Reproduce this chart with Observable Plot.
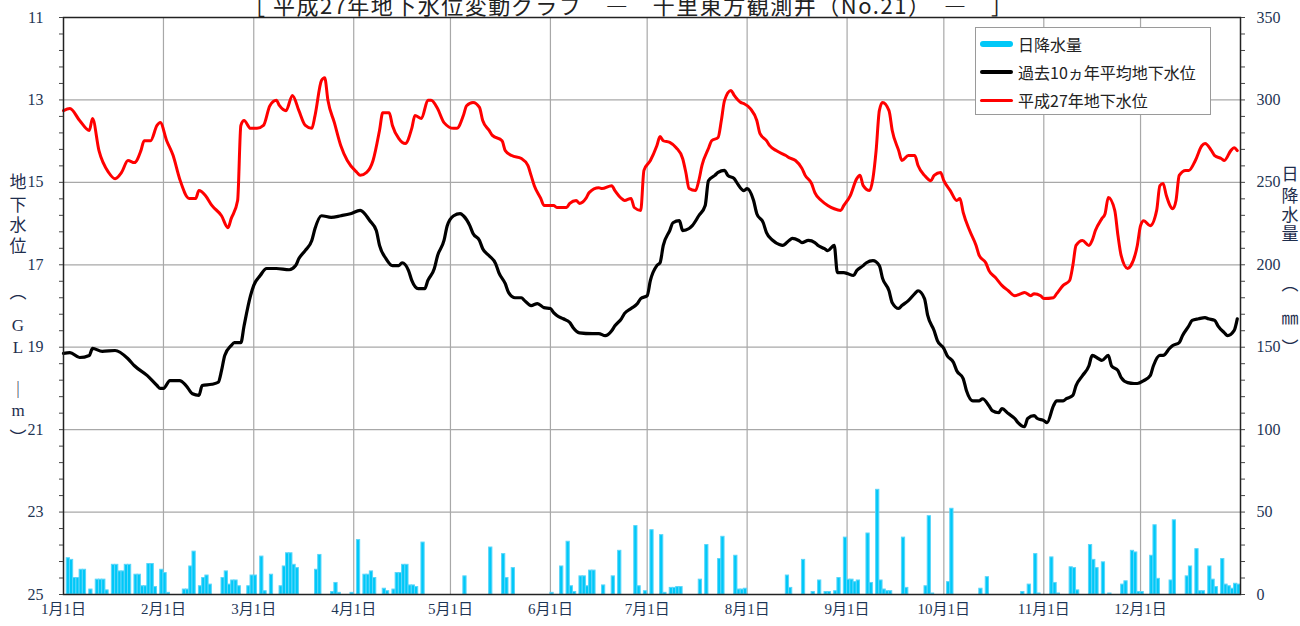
<!DOCTYPE html>
<html><head><meta charset="utf-8">
<script src="https://cdn.jsdelivr.net/npm/d3@7"></script>
<script src="https://cdn.jsdelivr.net/npm/@observablehq/plot@0.6"></script>
<style>
html,body{margin:0;padding:0;background:#fff;overflow:hidden;}
#wrap{position:relative;width:1300px;height:626px;}
#title{position:absolute;top:-12px;left:243px;font-size:22px;font-family:'Noto Sans CJK JP',sans-serif;letter-spacing:1.5px;color:#222;white-space:nowrap;}
.vlab{position:absolute;font-size:17px;font-family:'Liberation Serif','Noto Sans CJK JP',serif;color:#1e2d4d;transform:translate(-50%,-50%);line-height:1;}
#legend{position:absolute;left:975px;top:27px;width:236px;height:88px;border:1px solid #9a9a9a;background:#fff;box-sizing:border-box;}
.lrow{position:absolute;left:4px;height:20px;display:flex;align-items:center;font-size:16px;font-family:'Noto Sans CJK JP',sans-serif;color:#222;white-space:nowrap;}
.sw{width:33px;margin-right:5px;border-radius:3px;}
</style></head>
<body><div id="wrap"><div id="chart"></div>
<div id="title"></div>
<div id="legend"></div>
</div>
<script>
// ---- data (day index: 0 = 1 Jan 2015) ----
const titleText = "［ 平成27年地下水位変動グラフ　―　千里東方観測井（No.21）　―　］";
const monthLabels = ["1月1日","2月1日","3月1日","4月1日","5月1日","6月1日","7月1日","8月1日","9月1日","10月1日","11月1日","12月1日"];
const leftTicks = [11,13,15,17,19,21,23,25];
const rightTicksMm = [0,50,100,150,200,250,300,350];
const seriesNames = ["日降水量","過去10ヵ年平均地下水位","平成27年地下水位"];

const rainDay = [1,2,3,4,5,6,8,10,11,12,13,15,16,17,18,19,20,22,23,24,25,26,27,28,30,31,32,37,38,39,40,42,43,44,45,49,50,51,52,53,54,57,58,59,61,62,64,67,68,69,70,71,72,78,79,83,84,85,89,91,93,94,95,96,99,100,102,103,104,105,106,107,108,109,111,124,132,136,137,139,151,154,156,157,158,160,161,162,163,164,167,170,172,177,178,180,182,185,186,188,189,190,191,197,199,203,204,208,209,210,211,224,225,229,232,234,236,237,239,240,242,243,244,245,246,249,250,252,253,254,255,256,260,261,267,268,269,274,275,284,286,297,299,301,302,306,307,308,312,313,314,318,319,320,322,324,328,329,331,332,333,334,337,338,339,343,344,348,349,351,352,353,355,356,357,359,360,361,362,363,364];
const rainMm = [22,21,10,10,15,15,3,9,9,9,2.5,18,18,14,14,18,18,12,12,5,5,18.5,18.5,4.5,15,13,1,3,3,17,26,5,10,11.5,6,10,14,6,8.5,8.5,5,5,11.5,11.5,23,2,12,5,17,25,25,18,16,15,24,1.5,7,1,1,33,12,12,14,10,3.5,2,3,13,13,18,18,5.5,5.5,4.5,31.5,11,28.5,24.5,10,16,1,17,32,5,1.5,11,11,5,14.5,14.5,5.5,11,26.5,41.5,5,2,39,36,1,4,4,4.5,4.5,9,30,21.5,35,23.5,3,3,3.5,11.5,4,21,1.5,8.5,1.5,1.5,2,10,34.5,9,9,7.5,8.5,37,7,63.5,8.5,3,2,2,34.5,4,5,47.5,0.6,7.5,52,3.5,10.5,1.5,6,24.5,0.6,22.5,7,0.6,16.5,16,2.5,30,21,16,19.5,0.6,6,8,26.5,25.5,1.5,1.5,23.5,42,9.5,8.5,45,11,17,27.5,2,2,17,9,4.5,21.5,6,5,3.5,6.5,6];

const avgLevel = [[0,19.15],[2,19.13],[5,19.25],[8,19.20],[9,19.03],[12,19.10],[16,19.08],[20,19.28],[22,19.45],[26,19.69],[29,19.93],[30,20.00],[31,20.00],[33,19.81],[36,19.81],[38,19.93],[40,20.13],[42,20.17],[43,19.93],[46,19.90],[48,19.85],[49,19.57],[50,19.20],[52,18.96],[53,18.89],[55,18.89],[56,18.48],[58,17.75],[59,17.50],[61,17.26],[63,17.09],[66,17.09],[70,17.12],[72,17.02],[73,16.85],[75,16.65],[77,16.41],[78,16.12],[80,15.81],[83,15.85],[86,15.81],[89,15.76],[92,15.68],[95,15.93],[97,16.17],[98,16.53],[100,16.85],[102,17.02],[104,17.02],[105,16.95],[107,17.14],[108,17.38],[110,17.58],[112,17.58],[113,17.38],[115,17.09],[116,16.78],[118,16.41],[119,16.05],[121,15.81],[123,15.76],[124,15.81],[126,16.05],[127,16.24],[129,16.41],[130,16.61],[132,16.78],[134,16.97],[135,17.19],[137,17.46],[138,17.67],[140,17.80],[142,17.80],[143,17.87],[145,17.99],[147,17.94],[149,18.04],[151,18.06],[152,18.16],[153,18.23],[155,18.31],[157,18.40],[158,18.52],[160,18.65],[164,18.67],[166,18.67],[168,18.72],[170,18.60],[171,18.48],[173,18.31],[174,18.18],[176,18.06],[178,17.94],[179,17.82],[181,17.75],[182,17.38],[184,17.02],[185,16.95],[186,16.53],[188,16.17],[189,15.98],[191,15.93],[192,16.17],[194,16.12],[195,16.05],[197,15.81],[199,15.56],[200,14.96],[202,14.83],[203,14.76],[205,14.71],[206,14.83],[208,14.91],[209,15.03],[211,15.20],[212,15.15],[214,15.44],[215,15.76],[217,15.98],[218,16.22],[220,16.41],[222,16.51],[223,16.53],[225,16.41],[226,16.36],[228,16.41],[229,16.46],[231,16.41],[233,16.46],[234,16.53],[236,16.61],[237,16.66],[239,16.53],[240,17.19],[242,17.19],[243,17.21],[245,17.26],[246,17.14],[248,17.02],[249,16.95],[251,16.90],[253,17.02],[254,17.33],[256,17.63],[257,17.92],[259,18.06],[260,17.99],[262,17.87],[264,17.70],[265,17.63],[267,17.82],[268,18.23],[270,18.60],[271,18.84],[273,19.03],[274,19.20],[276,19.37],[277,19.57],[279,19.76],[280,20.05],[282,20.30],[284,20.30],[285,20.25],[287,20.42],[288,20.54],[290,20.59],[291,20.49],[293,20.61],[295,20.73],[296,20.83],[298,20.93],[299,20.73],[301,20.66],[302,20.73],[304,20.78],[305,20.83],[307,20.42],[308,20.30],[310,20.30],[311,20.25],[313,20.17],[314,19.93],[316,19.69],[318,19.45],[319,19.20],[321,19.28],[322,19.32],[324,19.20],[325,19.45],[327,19.57],[328,19.74],[330,19.86],[332,19.88],[333,19.88],[335,19.81],[337,19.69],[338,19.45],[340,19.20],[341,19.20],[343,19.03],[344,18.96],[346,18.89],[347,18.72],[349,18.48],[350,18.35],[352,18.31],[354,18.28],[355,18.31],[357,18.35],[358,18.48],[360,18.65],[361,18.72],[363,18.60],[364,18.31]];

const level2015 = [[0,13.26],[2,13.21],[5,13.50],[8,13.74],[9,13.45],[11,14.23],[14,14.76],[16,14.91],[18,14.76],[20,14.47],[22,14.52],[24,14.23],[25,13.99],[27,13.99],[29,13.62],[30,13.55],[32,13.99],[34,14.35],[36,14.91],[39,15.39],[41,15.39],[42,15.20],[44,15.32],[46,15.56],[49,15.81],[51,16.10],[52,15.88],[54,15.44],[55,13.62],[56,13.50],[58,13.69],[60,13.69],[62,13.62],[64,13.14],[66,13.01],[67,13.14],[69,13.26],[71,12.89],[73,13.26],[75,13.62],[77,13.69],[78,13.38],[80,12.53],[81,12.46],[82,13.01],[84,13.55],[86,14.11],[88,14.47],[91,14.76],[92,14.83],[94,14.76],[96,14.47],[98,13.74],[99,13.31],[101,13.31],[102,13.62],[104,13.94],[106,14.06],[108,13.69],[109,13.38],[111,13.45],[113,13.01],[114,13.01],[116,13.21],[118,13.55],[121,13.69],[122,13.69],[124,13.38],[125,13.14],[127,13.06],[129,13.18],[130,13.50],[132,13.74],[133,13.86],[136,13.99],[137,14.23],[139,14.35],[142,14.42],[144,14.59],[145,14.83],[146,15.08],[148,15.39],[149,15.56],[152,15.56],[153,15.61],[156,15.61],[157,15.51],[159,15.44],[160,15.51],[162,15.39],[163,15.25],[166,15.13],[167,15.15],[170,15.08],[171,15.20],[173,15.39],[174,15.44],[176,15.39],[177,15.61],[179,15.68],[180,14.71],[182,14.47],[184,14.11],[185,13.89],[186,13.99],[188,14.03],[190,14.16],[192,14.42],[193,14.76],[194,15.15],[196,15.20],[197,14.96],[198,14.59],[200,14.18],[201,13.99],[203,13.91],[204,13.50],[205,13.01],[207,12.77],[208,12.89],[210,13.06],[211,13.09],[213,13.21],[215,13.50],[216,13.82],[218,13.99],[219,14.11],[221,14.23],[224,14.35],[225,14.40],[227,14.47],[229,14.66],[230,14.83],[232,15.03],[233,15.25],[235,15.44],[237,15.56],[239,15.64],[241,15.68],[242,15.56],[244,15.32],[246,14.91],[247,14.83],[248,15.08],[250,15.20],[251,14.91],[252,14.23],[253,13.26],[254,13.06],[256,13.26],[257,13.74],[259,14.23],[260,14.47],[262,14.35],[264,14.35],[265,14.59],[267,14.83],[269,14.96],[270,14.83],[272,14.76],[273,14.96],[275,15.20],[277,15.44],[278,15.39],[279,15.73],[281,16.17],[283,16.53],[284,16.78],[286,16.95],[287,17.14],[289,17.31],[291,17.50],[293,17.63],[295,17.75],[297,17.70],[298,17.67],[300,17.75],[301,17.70],[303,17.75],[304,17.82],[307,17.80],[308,17.70],[310,17.50],[312,17.38],[313,17.02],[314,16.53],[316,16.41],[318,16.53],[319,16.41],[320,16.17],[322,15.88],[323,15.76],[324,15.37],[326,15.68],[327,16.29],[328,16.78],[330,17.09],[331,17.02],[333,16.53],[334,16.05],[335,15.93],[337,16.05],[339,15.68],[340,15.08],[341,15.03],[342,15.32],[344,15.64],[345,15.44],[346,14.83],[348,14.71],[349,14.71],[351,14.47],[353,14.11],[354,14.06],[356,14.23],[357,14.35],[359,14.42],[360,14.47],[362,14.23],[363,14.16],[364,14.23]];

// ---- helpers ----
const day = d => new Date(Date.UTC(2015, 0, 1 + d));
const mmToLevel = mm => 25 - mm * 14 / 350;
const levelToMm = v => Math.round((25 - v) * 350 / 14);
const months = monthLabels.map((_, m) => new Date(Date.UTC(2015, m, 1)));
const minorTicks = d3.range(36).map(i => +(11 + i * 0.4).toFixed(1));
const rain = rainDay.map((d, i) => ({d, mm: rainMm[i]}));
const colors = ["#00c8f8", "#000000", "#ff0000"];

const chart = Plot.plot({
  width: 1300, height: 626,
  marginLeft: 63, marginRight: 60, marginTop: 17, marginBottom: 32,
  style: {fontFamily: "'Liberation Serif','Noto Sans CJK JP',serif", fontSize: "16px", color: "#1e3554", background: "white"},
  x: {type: "utc", domain: [day(0), day(365)]},
  y: {domain: [25, 11]},
  marks: [
    Plot.gridY(leftTicks.slice(1, -1), {stroke: "#a8a8a8", strokeOpacity: 1, strokeWidth: 1.2}),
    Plot.gridX(months.slice(1), {stroke: "#a8a8a8", strokeOpacity: 1, strokeWidth: 1.2}),
    Plot.rect(rain, {x1: r => day(r.d), x2: r => day(r.d + 1), y1: 25, y2: r => mmToLevel(r.mm), fill: colors[0], stroke: "#5ad6fa", strokeWidth: 1}),
    Plot.line(avgLevel, {x: p => day(p[0]), y: p => p[1], stroke: colors[1], strokeWidth: 3.2, curve: "monotone-x"}),
    Plot.line(level2015, {x: p => day(p[0]), y: p => p[1], stroke: colors[2], strokeWidth: 3, curve: "monotone-x"}),
    Plot.frame({stroke: "#222", strokeWidth: 1.5}),
    Plot.axisY(minorTicks, {anchor: "left", tickSize: 4, tickFormat: () => "", stroke: "#444", label: null}),
    Plot.axisY(leftTicks, {anchor: "left", tickSize: 0, tickPadding: 20, tickFormat: d => String(d), label: null}),
    Plot.axisY(minorTicks, {anchor: "right", tickSize: 4, tickFormat: () => "", stroke: "#444", label: null}),
    Plot.axisY(rightTicksMm.map(mmToLevel), {anchor: "right", tickSize: 0, tickPadding: 16, tickFormat: d => String(levelToMm(d)), label: null}),
    Plot.axisX(months, {anchor: "bottom", tickSize: 0, tickPadding: 9, fontSize: 15, tickFormat: d => monthLabels[d.getUTCMonth()], label: null})
  ]
});
document.getElementById("chart").appendChild(chart);

// title (cut off at top, as in reference)
document.getElementById("title").textContent = titleText;

// vertical axis titles
const wrap = document.getElementById("wrap");
const leftTitle = [["地",182],["下",205],["水",225],["位",246],["︵",292],["G",325],["L",347],["｜",390],["m",410],["︶",438]];
const rightTitle = [["日",174],["降",196],["水",215],["量",234],["︵",284],["㎜",318],["︶",348]];
function vlabel(list, x) {
  list.forEach(([ch, y]) => {
    const s = document.createElement("div");
    s.className = "vlab"; s.textContent = ch;
    s.style.left = x + "px"; s.style.top = y + "px";
    wrap.appendChild(s);
  });
}
vlabel(leftTitle, 18);
vlabel(rightTitle, 1290);

// legend
const legend = document.getElementById("legend");
const sw = [6, 4, 3];
seriesNames.forEach((name, i) => {
  const row = document.createElement("div");
  row.className = "lrow"; row.style.top = (6 + i * 28) + "px";
  const s = document.createElement("div");
  s.className = "sw"; s.style.height = sw[i] + "px"; s.style.background = colors[i];
  const t = document.createElement("span"); t.textContent = name;
  row.appendChild(s); row.appendChild(t);
  legend.appendChild(row);
});
</script>
</body></html>
